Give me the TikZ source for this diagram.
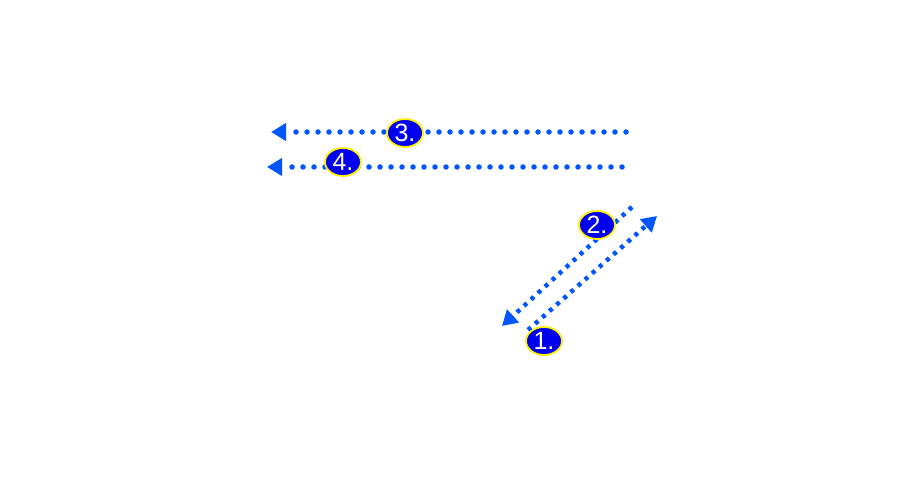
\documentclass[tikz,border=0pt]{standalone}
\usepackage{fontspec}
\setmainfont{Liberation Sans}
\usetikzlibrary{arrows.meta,shapes.geometric}
\definecolor{lineblue}{HTML}{0055FF}
\definecolor{labfill}{HTML}{0000EE}
\definecolor{labedge}{HTML}{FFF000}
\begin{document}
\begin{tikzpicture}[x=1pt,y=-1pt,
  hdots/.style={draw=lineblue,line width=5.5pt,line cap=round,dash pattern=on 0pt off 11pt,
    -{Triangle[length=15pt,width=17pt,line cap=butt]}},
  ddots/.style={draw=lineblue,line width=4.5pt,line cap=butt,dash pattern=on 4pt off 5.5pt,
    -{Triangle[length=15pt,width=17pt]}},
  lab/.style={ellipse,fill=labfill,draw=labedge,line width=1.8pt,minimum width=36pt,minimum height=28pt,inner sep=0pt,
    text=white,font=\fontsize{25}{25}\selectfont}]
\useasboundingbox (0,0) rectangle (921,494);
\coordinate (a3s) at (626,132);
\coordinate (a3e) at (271,132);
\coordinate (a4s) at (622,167);
\coordinate (a4e) at (267,167);
\coordinate (a2s) at (632,207);
\coordinate (a2e) at (502,326);
\coordinate (a1s) at (528,330);
\coordinate (a1e) at (657,216);
\draw[hdots] (a3s) -- (a3e);
\draw[hdots] (a4s) -- (a4e);
\draw[ddots] (a2s) -- (a2e);
\draw[ddots] (a1s) -- (a1e);
\node[lab] (l3) at (405,133) {\raisebox{-2pt}{3.}};
\node[lab] (l4) at (343,162) {\raisebox{-2pt}{4.}};
\node[lab] (l2) at (597,225) {\raisebox{-2pt}{2.}};
\node[lab] (l1) at (544,341) {\raisebox{-2pt}{1.}};
\end{tikzpicture}
\end{document}
